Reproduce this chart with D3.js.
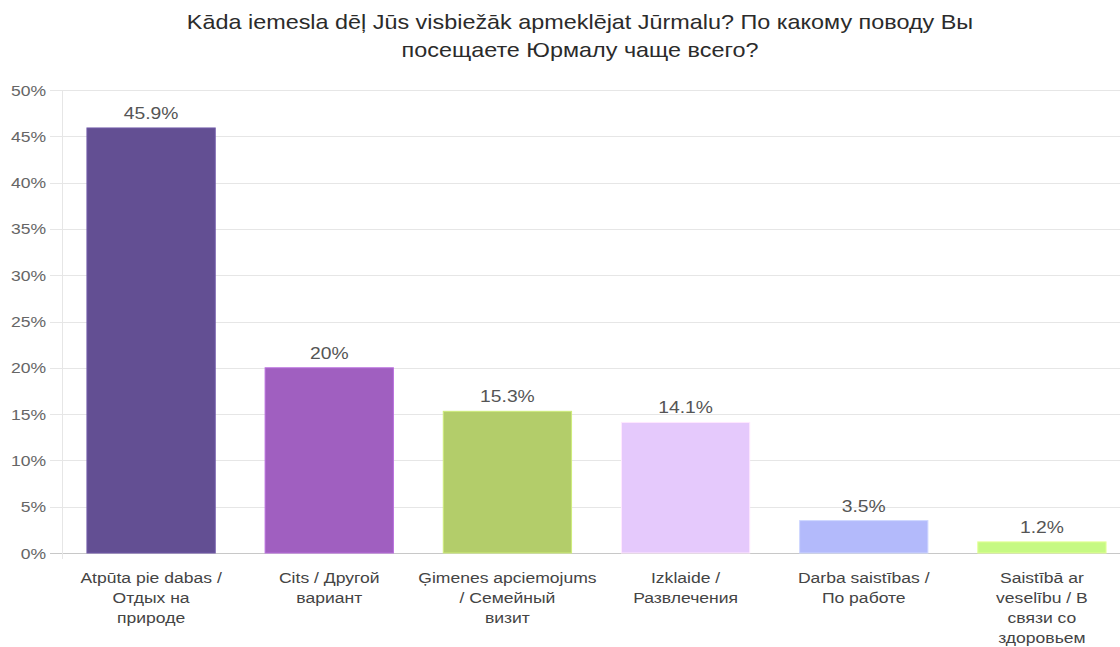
<!DOCTYPE html>
<html>
<head>
<meta charset="utf-8">
<script src="https://cdn.jsdelivr.net/npm/d3@7"></script>
<style>
  html, body { margin: 0; padding: 0; background: #fff; }
  svg { display: block; font-family: "Liberation Sans", Arial, sans-serif; }
</style>
</head>
<body>
<svg id="chart" width="1120" height="647"></svg>
<script>
// Survey answers (label lines), share of respondents in %
const categories = [
  ["Atpūta pie dabas /", "Отдых на", "природе"],
  ["Cits / Другой", "вариант"],
  ["Ģimenes apciemojums", "/ Семейный", "визит"],
  ["Izklaide /", "Развлечения"],
  ["Darba saistības /", "По работе"],
  ["Saistībā ar", "veselību / B", "связи со", "здоровьем"]
];
const values = [45.9, 20, 15.3, 14.1, 3.5, 1.2];
const barColors = ["#634f93", "#a05fc0", "#b3cd6a", "#e5c9fc", "#b3bafb", "#c6f983"];
const yTicks = [0, 5, 10, 15, 20, 25, 30, 35, 40, 45, 50];
const titleLines = [
  "Kāda iemesla dēļ Jūs visbiežāk apmeklējat Jūrmalu? По какому поводу Вы",
  "посещаете Юрмалу чаще всего?"
];

// Glyphs in this layout are set slightly wide
const STRETCH = 1.17;
const placed = (x, y) => `translate(${x},${y}) scale(${STRETCH},1)`;

const svg = d3.select("#chart");
const margin = { left: 62, top: 90, bottom: 553, right: 1131 };

const x = d3.scaleBand()
  .domain(d3.range(values.length))
  .range([margin.left, margin.right])
  .paddingInner(0.28)
  .paddingOuter(0.14);

const y = d3.scaleLinear().domain([0, 50]).range([margin.bottom, margin.top]);

// Title
svg.append("g").selectAll("text").data(titleLines).join("text")
  .attr("transform", (d, i) => placed(580, 29 + i * 28))
  .attr("text-anchor", "middle")
  .attr("font-size", 20)
  .attr("fill", "#2b2b2b")
  .text(d => d);

// Horizontal grid + y ticks
const yAxis = svg.append("g");
yAxis.selectAll("line.grid").data(yTicks).join("line")
  .attr("class", "grid")
  .attr("x1", 50).attr("x2", 1120)
  .attr("y1", d => Math.round(y(d)) + 0.5)
  .attr("y2", d => Math.round(y(d)) + 0.5)
  .attr("stroke", d => d === 0 ? "#c8c8c8" : "#e6e6e6")
  .attr("stroke-width", 1);
yAxis.selectAll("text").data(yTicks).join("text")
  .attr("transform", d => placed(46, y(d) + 5.5))
  .attr("text-anchor", "end")
  .attr("font-size", 15)
  .attr("fill", "#666")
  .text(d => d + "%");

// Vertical axis line
svg.append("line")
  .attr("x1", margin.left + 0.5).attr("x2", margin.left + 0.5)
  .attr("y1", margin.top).attr("y2", margin.bottom + 6)
  .attr("stroke", "#e6e6e6");

// Bars
svg.append("g").selectAll("rect").data(values).join("rect")
  .attr("x", (d, i) => x(i))
  .attr("y", d => y(d))
  .attr("width", x.bandwidth())
  .attr("height", d => y(0) - y(d))
  .attr("fill", (d, i) => barColors[i])
  .attr("stroke", (d, i) => d3.color(barColors[i]).brighter(0.4))
  .attr("stroke-width", 1);

// Value labels
svg.append("g").selectAll("text").data(values).join("text")
  .attr("transform", (d, i) => placed(x(i) + x.bandwidth() / 2, y(d) - 9))
  .attr("text-anchor", "middle")
  .attr("font-size", 16.5)
  .attr("fill", "#555")
  .text(d => d + "%");

// Category labels
const catG = svg.append("g").selectAll("text").data(categories).join("text")
  .attr("transform", (d, i) => placed(x(i) + x.bandwidth() / 2, 583))
  .attr("text-anchor", "middle")
  .attr("font-size", 15)
  .attr("fill", "#444");
catG.selectAll("tspan").data(d => d).join("tspan")
  .attr("x", 0)
  .attr("dy", (d, i) => i === 0 ? 0 : 20)
  .text(d => d);
</script>
</body>
</html>
